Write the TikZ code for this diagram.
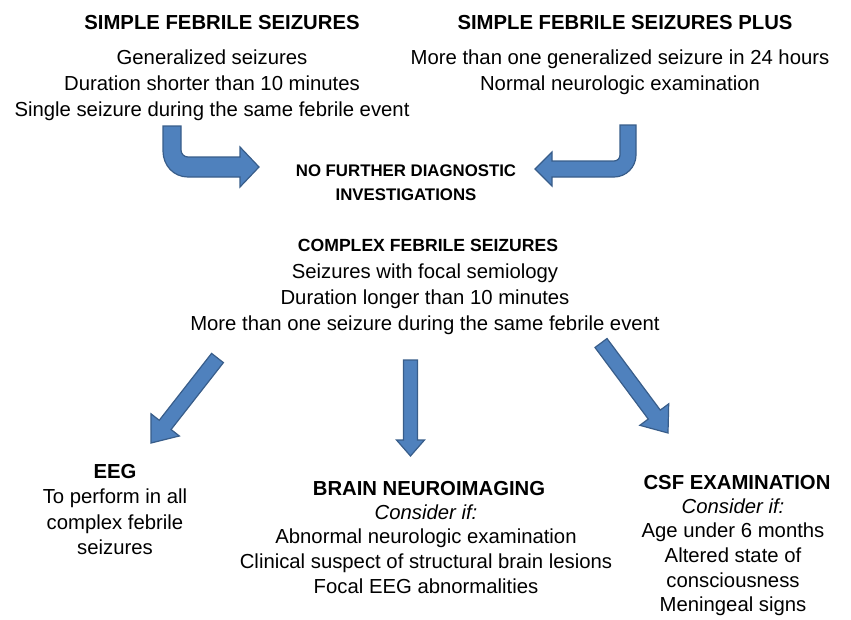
\documentclass[tikz,border=0pt]{standalone}
\usepackage{fontspec}
\setmainfont{Liberation Sans}
\usetikzlibrary{calc}
\definecolor{afill}{HTML}{4F81BD}
\definecolor{adraw}{HTML}{385D8A}
\begin{document}
\begin{tikzpicture}[x=1pt,y=-1pt,
  blockarrow/.style={fill=afill,draw=adraw,line width=1.2pt,line join=miter},
  ttl/.style={font=\bfseries\fontsize{20.3}{26}\selectfont,anchor=base,inner sep=0pt},
  blk/.style={align=center,anchor=north,inner sep=0pt},
  bfont/.style={font=\fontsize{20.3}{#1}\selectfont}]
\useasboundingbox (0,0) rectangle (851,619);

% ---------- texts ----------
\node[ttl] (sfs) at (222,29) {SIMPLE FEBRILE SEIZURES};
\node[blk,bfont=26] (sfsb) at (212,45.8) {\strut Generalized seizures\\\strut Duration shorter than 10 minutes\\\strut Single seizure during the same febrile event};
\node[ttl] (sfp) at (625,29) {SIMPLE FEBRILE SEIZURES PLUS};
\node[blk,bfont=26] (sfpb) at (620,45.8) {\strut More than one generalized seizure in 24 hours\\\strut Normal neurologic examination};
\node[blk,font=\bfseries\fontsize{16.8}{24.5}\selectfont] (nfd) at (406,158.8) {\strut NO FURTHER DIAGNOSTIC\\\strut INVESTIGATIONS};
\node[ttl,font=\bfseries\fontsize{17.6}{22}\selectfont] (cfs) at (428,251) {COMPLEX FEBRILE SEIZURES};
\node[blk,bfont=26.3] (cfsb) at (425,259.6) {\strut Seizures with focal semiology\\\strut Duration longer than 10 minutes\\\strut More than one seizure during the same febrile event};
\node[ttl] (eeg) at (115,478) {EEG};
\node[blk,bfont=25.6] (eegb) at (115,485.6) {\strut To perform in all\\\strut complex febrile\\\strut seizures};
\node[ttl] (bni) at (429,495) {BRAIN NEUROIMAGING};
\node[blk,bfont=24.6] (bnib) at (426,501.8) {\strut\textit{Consider if:}\\\strut Abnormal neurologic examination\\\strut Clinical suspect of structural brain lesions\\\strut Focal EEG abnormalities};
\node[ttl] (csf) at (737,489) {CSF EXAMINATION};
\node[blk,bfont=24.6] (csfb) at (733,495.8) {\strut\textit{Consider if:}\\\strut Age under 6 months\\\strut Altered state of\\\strut consciousness\\\strut Meningeal signs};

% ---------- bent arrows ----------
\draw[blockarrow] (163,126) -- (181,126) -- (181,150)
   .. controls (181,153.9) and (184.1,157) .. (188,157)
   -- (240,157) -- (240,147) -- (259,167) -- (240,187) -- (240,177)
   -- (188,177) .. controls (173.6,177) and (163,165.4) .. (163,151) -- cycle;
\draw[blockarrow] (620,125) -- (636,125) -- (636,155)
   .. controls (636,167.1) and (626.1,177) .. (614,177)
   -- (552,177) -- (552,186) -- (535,169) -- (552,152) -- (552,161)
   -- (614,161) .. controls (617.3,161) and (620,158.3) .. (620,155) -- cycle;

% ---------- straight arrows ----------
\newcommand{\sarrow}[6]{% name, tail, tip, half shaft, half head, head length
  \coordinate (#1S) at #2; \coordinate (#1T) at #3;
  \coordinate (#1H) at ($(#1T)!#6!(#1S)$);
  \draw[blockarrow] ($(#1S)!#4!90:(#1T)$) -- ($(#1H)!#4!-90:(#1S)$)
     -- ($(#1H)!#5!-90:(#1S)$) -- (#1T) -- ($(#1H)!#5!90:(#1S)$)
     -- ($(#1H)!#4!90:(#1S)$) -- ($(#1S)!#4!-90:(#1T)$) -- cycle;}
\sarrow{a}{(217.5,358)}{(151,443)}{7.5pt}{18pt}{23pt}
\sarrow{b}{(410.5,360)}{(410.5,456)}{7pt}{14pt}{16pt}
\sarrow{c}{(601,343)}{(668,433)}{7.5pt}{18pt}{23pt}
\end{tikzpicture}
\end{document}
